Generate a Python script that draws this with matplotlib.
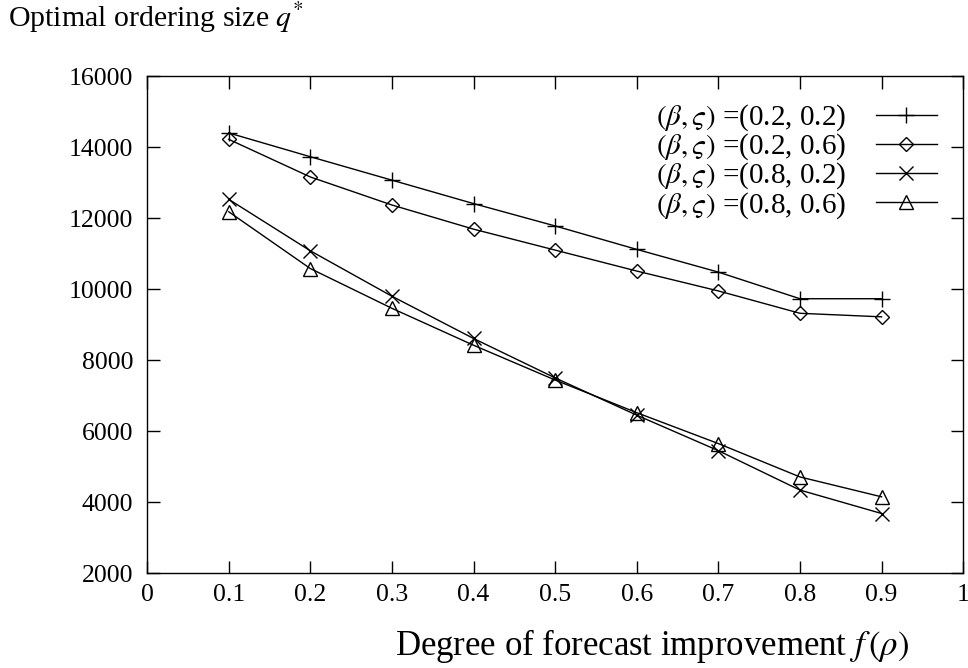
import matplotlib.pyplot as plt

plt.rcParams['font.family'] = ['Liberation Serif', 'DejaVu Serif']
plt.rcParams['mathtext.fontset'] = 'stix'

x = [0.1, 0.2, 0.3, 0.4, 0.5, 0.6, 0.7, 0.8, 0.9]
q_02_02 = [14400, 13730, 13070, 12410, 11780, 11120, 10480, 9730, 9730]
q_02_06 = [14220, 13160, 12370, 11690, 11100, 10510, 9950, 9320, 9220]
q_08_02 = [12530, 11080, 9800, 8610, 7500, 6450, 5450, 4340, 3680]
q_08_06 = [12180, 10580, 9460, 8420, 7440, 6520, 5650, 4710, 4150]
labels = [r'$(\beta,\varsigma)$ =(0.2, 0.2)', r'$(\beta,\varsigma)$ =(0.2, 0.6)',
          r'$(\beta,\varsigma)$ =(0.8, 0.2)', r'$(\beta,\varsigma)$ =(0.8, 0.6)']
xticks = [0, 0.1, 0.2, 0.3, 0.4, 0.5, 0.6, 0.7, 0.8, 0.9, 1]
xticklabels = ['0', '0.1', '0.2', '0.3', '0.4', '0.5', '0.6', '0.7', '0.8', '0.9', '1']
yticks = [2000, 4000, 6000, 8000, 10000, 12000, 14000, 16000]

fig = plt.figure(figsize=(9.68, 6.68), dpi=100)
ax = fig.add_axes([0.152, 0.142, 0.843, 0.744])

style = dict(color='black', linewidth=1.0, markerfacecolor='none', markeredgewidth=1.0)
ax.plot(x, q_02_02, marker='+', markersize=12, label=labels[0], **style)
ax.plot(x, q_02_06, marker='D', markersize=7, label=labels[1], **style)
ax.plot(x, q_08_02, marker='x', markersize=10, label=labels[2], **style)
ax.plot(x, q_08_06, marker='^', markersize=10, label=labels[3], **style)

ax.set_xlim(0, 1)
ax.set_ylim(2000, 16000)
ax.set_xticks(xticks)
ax.set_xticklabels(xticklabels)
ax.set_yticks(yticks)
ax.tick_params(direction='in', length=9, width=1, top=True, right=True, labelsize=18.5)
ax.tick_params(axis='y', pad=10)
ax.tick_params(axis='x', pad=8)
for s in ax.spines.values():
    s.set_linewidth(1.0)

ax.legend(loc='upper right', frameon=False, markerfirst=False, fontsize=21,
          handlelength=2.1, labelspacing=-0.05, borderaxespad=0.5, borderpad=0.4,
          handletextpad=1.0)

fig.text(0.008, 1 - 27 / 668, r'Optimal ordering size $q^{*}$', fontsize=21.5,
         ha='left', va='baseline')
fig.text(0.674, 1 - 655 / 668, r'Degree of forecast improvement $f\,(\rho)$', fontsize=25,
         ha='center', va='baseline')

fig.savefig('out.png', dpi=100)
